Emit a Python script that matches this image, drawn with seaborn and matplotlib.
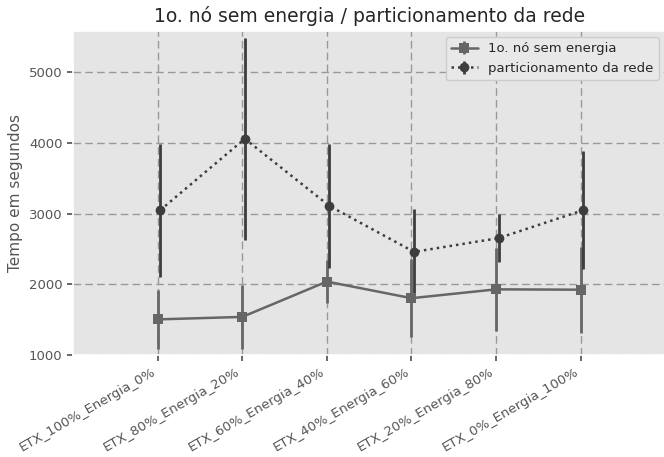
import matplotlib
matplotlib.use("Agg")
import matplotlib.pyplot as plt
from matplotlib.container import ErrorbarContainer
import numpy as np
import pandas as pd
import seaborn as sns

# dados
cenarios = ["ETX_100%_Energia_0%", "ETX_80%_Energia_20%", "ETX_60%_Energia_40%",
            "ETX_40%_Energia_60%", "ETX_20%_Energia_80%", "ETX_0%_Energia_100%"]
no_sem_energia = [1505, 1540, 2040, 1805, 1930, 1925]
no_sem_energia_dp = [420, 450, 305, 555, 590, 610]
particionamento = [3050, 4060, 3110, 2460, 2655, 3050]
particionamento_dp = [940, 1430, 875, 600, 335, 830]

series = ["1o. nó sem energia", "particionamento da rede"]
cores = {series[0]: "#666666", series[1]: "#3d3d3d"}

sns.set_theme(style="darkgrid", rc={
    "axes.facecolor": "#E5E5E5",
    "xtick.color": "#555555",
    "ytick.color": "#555555",
    "axes.labelcolor": "#555555",
    "xtick.bottom": True,
    "ytick.left": True,
    "xtick.major.size": 4,
    "ytick.major.size": 4,
})
plt.rcParams["font.family"] = ["DejaVu Sans"]

idx = np.arange(len(cenarios))
desloc = {series[0]: 0.0, series[1]: 0.03}
df = pd.concat([
    pd.DataFrame({"pos": idx + desloc[series[0]], "tempo": no_sem_energia,
                  "dp": no_sem_energia_dp, "serie": series[0]}),
    pd.DataFrame({"pos": idx + desloc[series[1]], "tempo": particionamento,
                  "dp": particionamento_dp, "serie": series[1]}),
], ignore_index=True)

fig = plt.figure(figsize=(6.64, 4.57), dpi=100)
ax = fig.add_axes([0.110, 0.223, 0.892, 0.710])

handles = []
for s, marker, dashes in [(series[0], "s", ""), (series[1], "o", (1, 1.6))]:
    sub = df[df["serie"] == s]
    bars = ax.errorbar(sub["pos"], sub["tempo"], yerr=sub["dp"], fmt="none",
                       ecolor=cores[s], elinewidth=2, zorder=2)
    sns.lineplot(data=sub, x="pos", y="tempo", color=cores[s], marker=marker,
                 markersize=7, markeredgewidth=0, linewidth=1.8, dashes=dashes,
                 sort=False, errorbar=None, ax=ax, zorder=3)
    linha = ax.lines[-1]
    handles.append(ErrorbarContainer((linha, (), bars.lines[2]),
                                     has_xerr=False, has_yerr=True, label=s))

ax.grid(True, color="#999999", linestyle=(0, (5.5, 3)), linewidth=1.0)
ax.set_xticks(idx)
ax.set_xticklabels(cenarios, rotation=30, ha="right", fontsize=9.5)
ax.tick_params(axis="y", labelsize=9.5)
ax.set_xlim(-1, 6)
ax.set_ylim(1000, 5590)
ax.set_yticks([1000, 2000, 3000, 4000, 5000])
ax.set_xlabel("")
ax.set_ylabel("Tempo em segundos", fontsize=11)
ax.set_title("1o. nó sem energia / particionamento da rede", fontsize=13.5)
ax.legend(handles=handles, labels=series, loc="upper right", fontsize=9.5,
          facecolor="#E8E8E8", edgecolor="#cccccc", framealpha=1)

fig.savefig("out.png", dpi=100)
